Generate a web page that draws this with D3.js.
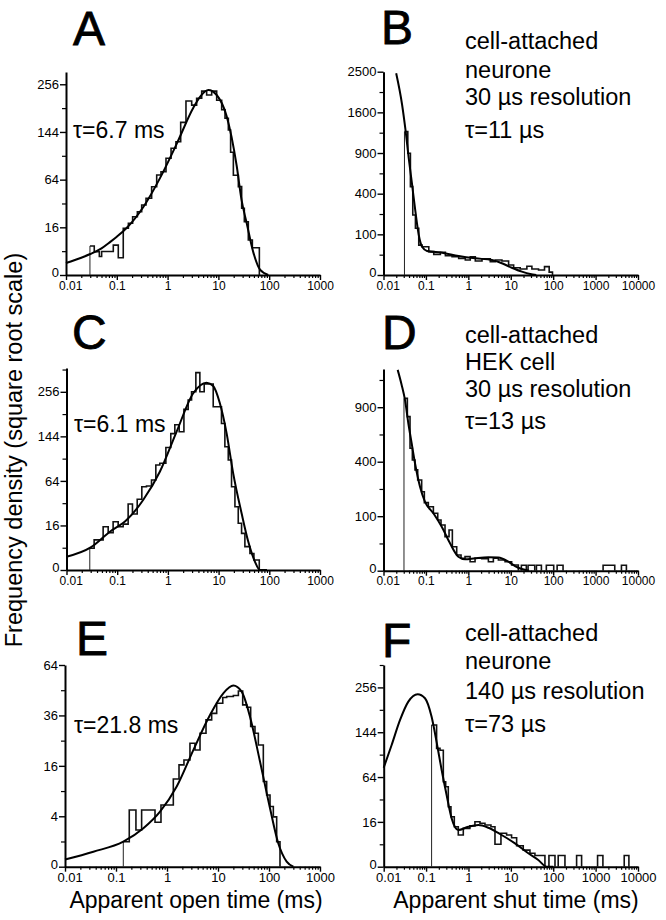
<!DOCTYPE html>
<html><head><meta charset="utf-8">
<script src="https://cdn.jsdelivr.net/npm/d3@7"></script>
<style>
body{margin:0;background:#fff}
svg{display:block}
text{font-family:"Liberation Sans",Arial,Helvetica,sans-serif;fill:#000}
</style>
</head><body>
<svg id="chart" width="666" height="920"></svg>
<script>
// ---------- DATA ----------
// Panel A: apparent open time, neurone
const aEdges = [0.0296,0.036,0.0453,0.0503,0.0853,0.107,0.134,0.169,0.205,0.254,0.309,0.376,0.485,0.61,0.741,0.93,1.17,1.46,1.81,2.30,2.98,3.73,4.69,5.87,7.38,9.25,11.6,13.5,15.7,17.4,19.7,24.7,28.7,32.4,38.8,46.6,64];
const aVals  = [5.9,3.8,2.4,3.9,6.3,2.1,15.4,18.8,23.9,28.2,34.5,41.4,54.9,70.4,75,95.8,113,125,164,213,203,220,238,228,238,215,192,173,148,106,70,55,31.3,20,8.6,5.2];
const aFitX  = [0.01,0.02,0.03,0.05,0.0734,0.1,0.156,0.333,0.708,1.51,3.21,4.5,6.33,9.25,14.5,22.9,28.5,36,48.7,66,96];
const aFitY  = [1.0,2.1,3.1,5.0,7.6,10.3,15.5,32.5,66,121,197,226,241,228,178,84,40,19,3.6,0.2,0];

// Panel B: apparent shut time, neurone, 30 µs resolution
const bEdges = [0.0312,0.0374,0.0431,0.049,0.0566,0.0678,0.0813,0.117,0.153,0.219,0.288,0.413,0.592,0.849,1.11,1.46,2.10,3.29,4.32,6.2,8.9,11.7,16.7,24,31.5,45.2,62.5,80.5,96.4];
const bVals  = [1243,896,472,218,132,54,48.5,33,25.8,31.5,22.5,20.4,16.8,13.6,20,11.9,15.9,10.8,13.6,11.9,6,3.2,2.2,4.6,2.2,1.5,4.2,0.5];
const bFitX  = [0.0199,0.0275,0.033,0.0394,0.0473,0.0566,0.0678,0.0813,0.106,0.24,0.592,1.46,3.6,6.2,10.6,18.3,28.8,40];
const bFitY  = [2460,1748,1272,824,490,242,97,48,35,30,21.8,16.8,13.6,8.3,3.2,0.67,0.05,0];

// Panel C: apparent open time, HEK cell
const cEdges = [0.0288,0.0351,0.0528,0.0664,0.0831,0.1045,0.131,0.1644,0.2,0.248,0.306,0.378,0.475,0.578,0.693,0.912,1.14,1.37,1.67,2.07,2.51,2.93,3.56,4.27,5.2,6.53,7.83,9.12,11.4,13.3,15.5,18.0,21.0,24.4,28.4,33.0,41.5,49.7,63.4];
const cVals  = [3.8,7.3,15.1,11.2,18.8,15.1,17,35.1,25.3,40.3,55.9,56.8,65.3,88.8,92,121,150,170,154,208,233,256,314,256,279,279,215,215,173,122.5,97.5,55.9,32.3,17.6,10.8,4.4,2.2,0.8];
const cFitX  = [0.01,0.03,0.0717,0.153,0.325,0.693,1.48,3.16,5.79,7.83,10.6,14.4,19.4,28.4,38.4,52,65.3,90];
const cFitY  = [1.4,4.1,11.8,20.1,39.5,77.9,154,252,283,273,224,150.6,75.3,25.9,6.5,0.56,0,0];

// Panel D: apparent shut time, HEK cell, 30 µs resolution
const dEdges = [0.0304,0.0365,0.0422,0.0479,0.0553,0.064,0.0794,0.0918,0.114,0.15,0.19,0.227,0.282,0.351,0.42,0.532,0.673,0.836,1.1,1.44,2.07,2.97,3.89,5.11,7.34,10.5,15.1];
const dVals  = [1000,799,505,413,342,277,210,156,138,111,86.6,70.4,39,55.8,19.4,8.3,5.2,6.7,2.7,5.2,4.8,2.7,5.2,3.9,2.7,1.1];
const dTailLeft  = [17.8,25.6,40.3,69,124,1503,4070];
const dTailRight = [23.3,36.8,52.8,103,171,2831,5330];
const dTailVals  = [1,1,1,1,1,1,1];
const dFitX  = [0.0216,0.0268,0.0321,0.0385,0.0461,0.0553,0.0726,0.0953,0.15,0.236,0.37,0.582,0.836,1.44,2.97,5.11,8.8,12.6,18.2,27];
const dFitY  = [1358,1162,982,732,547,389,238,160,111,65,25.3,6.6,4.4,5.2,6.0,5.8,2.7,0.74,0.1,0];

// Panel E: apparent open time, neurone (140 µs)
const eEdges = [0.139,0.182,0.246,0.318,0.582,0.762,1.33,1.72,2.15,2.82,3.54,4.44,5.82,7.51,9.42,12.4,14.8,20,25.1,30.5,36.5,43.7,53.1,61.8,77.4,90,104.7,121.6,141.4,164.3];
const eVals  = [0.98,5.06,2.12,5.06,3.1,6.0,12.1,16.3,17.9,24,21.4,28,33.9,37,42,45,45.6,46.1,48.6,41.2,40,30.9,28,23.3,11.4,8.1,5.7,3.9,0.98];
const eFitX  = [0.01,0.036,0.139,0.344,0.73,1.55,3.28,6.97,12.7,20,29.1,42.4,66.6,104.7,152,222,300];
const eFitY  = [0.08,0.354,0.98,2.32,4.76,10.1,21.4,36.2,47.3,51.6,48.2,35.4,17.4,5.37,0.86,0.04,0];

// Panel F: apparent shut time, neurone, 140 µs resolution
const fEdges = [0.135,0.177,0.213,0.255,0.29,0.334,0.386,0.463,0.575,0.755,1.08,1.42,1.87,2.45,3.39,4.22,5.84,7.94,10.4,13.7,19.6,28.2,37,63.7];
const fVals  = [160,111.5,108,57.5,51,28.6,19.9,12.7,8.0,11.7,13.3,16.1,15,13.8,12.7,4,8.9,8.0,6.7,3.5,2.2,1.43,1.0];
const fTailLeft  = [79.2,131,356,1112,4730];
const fTailRight = [110,189,467,1486,6100];
const fTailVals  = [1,1,1,1,1];
const fFitX  = [0.01,0.0154,0.0242,0.0381,0.0633,0.0942,0.135,0.177,0.233,0.305,0.401,0.575,0.99,1.71,2.94,6.06,12.5,25.8,44.4,69.8,100];
const fFitY  = [78,118,171,217,237,226,179,124,74.4,40.9,18.6,10.7,12.7,13.8,12.1,8.0,4.35,1.43,0.36,0,0];

// Axis ticks and labels
const xTicksOpen  = [0.01,0.1,1,10,100,1000];
const xLabelsOpen = ["0.01","0.1","1","10","100","1000"];
const xTicksShut  = [0.01,0.1,1,10,100,1000,10000];
const xLabelsShut = ["0.01","0.1","1","10","100","1000","10000"];
const yTicksA = [0,16,64,144,256],        yMinorA = [4,36,100,196];
const yTicksB = [0,100,400,900,1600,2500], yMinorB = [25,225,625,1225,2025];
const yTicksC = [0,16,64,144,256],        yMinorC = [4,36,100,196,324];
const yTicksD = [0,100,400,900],          yMinorD = [25,225,625,1225];
const yTicksE = [0,4,16,36,64],           yMinorE = [1,9,25,49];
const yTicksF = [0,16,64,144,256],        yMinorF = [4,36,100,196,324];

// Texts
const panelLetters = ["A","B","C","D","E","F"];
const tauOpen = ["τ=6.7 ms","τ=6.1 ms","τ=21.8 ms"];
const notesB = ["cell-attached","neurone","30 µs resolution","τ=11 µs"];
const notesD = ["cell-attached","HEK cell","30 µs resolution","τ=13 µs"];
const notesF = ["cell-attached","neurone","140 µs resolution","τ=73 µs"];
const yTitle = "Frequency density (square root scale)";
const xTitleOpen = "Apparent open time (ms)";
const xTitleShut = "Apparent shut time (ms)";

// ---------- LAYOUT ----------
const layout = [
  {edges:aEdges, vals:aVals, fx:aFitX, fy:aFitY, xt:xTicksOpen, xl:xLabelsOpen, yt:yTicksA, ym:yMinorA,
   left:66, right:320, base:275, top:72, xMax:1000, yMax:290, lx:73, ly:45, xfs:12},
  {edges:bEdges, vals:bVals, fx:bFitX, fy:bFitY, xt:xTicksShut, xl:xLabelsShut, yt:yTicksB, ym:yMinorB,
   left:383.5, right:638, base:275, top:71.7, xMax:10000, yMax:2500, lx:381, ly:44, xfs:12},
  {edges:cEdges, vals:cVals, fx:cFitX, fy:cFitY, xt:xTicksOpen, xl:xLabelsOpen, yt:yTicksC, ym:yMinorC,
   left:66.5, right:320, base:570, top:368, xMax:1000, yMax:329, lx:72, ly:349, xfs:12},
  {edges:dEdges, vals:dVals, fx:dFitX, fy:dFitY, xt:xTicksShut, xl:xLabelsShut, yt:yTicksD, ym:yMinorD,
   left:383.5, right:638, base:570.7, top:369, xMax:10000, yMax:1370, lx:382, ly:349, xfs:12,
   tl:dTailLeft, tr:dTailRight, tv:dTailVals},
  {edges:eEdges, vals:eVals, fx:eFitX, fy:eFitY, xt:xTicksOpen, xl:xLabelsOpen, yt:yTicksE, ym:yMinorE,
   left:65, right:320, base:866.7, top:665, xMax:1000, yMax:64, lx:76, ly:655, xfs:13},
  {edges:fEdges, vals:fVals, fx:fFitX, fy:fFitY, xt:xTicksShut, xl:xLabelsShut, yt:yTicksF, ym:yMinorF,
   left:383.7, right:638, base:866.7, top:665, xMax:10000, yMax:324, lx:382, ly:657, xfs:13,
   tl:fTailLeft, tr:fTailRight, tv:fTailVals}
];

const svg = d3.select("#chart");

layout.forEach((p, i) => {
  const x = d3.scaleLog().domain([0.01, p.xMax]).range([p.left, p.right]);
  const y = d3.scaleSqrt().domain([0, p.yMax]).range([p.base, p.top]);
  const g = svg.append("g");

  // minor x ticks
  const minors = x.ticks().filter(v => !p.xt.some(t => Math.abs(t - v) / t < 1e-6));
  g.append("g").attr("transform", `translate(0,${p.base})`)
    .call(d3.axisBottom(x).tickValues(minors).tickSize(3).tickFormat(""))
    .call(s => s.select(".domain").remove())
    .selectAll("line").attr("stroke", "#000").attr("stroke-width", 1.2);
  // major x ticks
  const xa = g.append("g").attr("transform", `translate(0,${p.base})`)
    .call(d3.axisBottom(x).tickValues(p.xt).tickSize(5).tickSizeOuter(0).tickPadding(1)
      .tickFormat((d, k) => p.xl[k]));
  xa.select(".domain").attr("stroke", "#000").attr("stroke-width", 2);
  xa.selectAll("line").attr("stroke", "#000").attr("stroke-width", 1.4);
  xa.selectAll("text").attr("font-size", p.xfs).attr("font-family", null);
  // keep the "0.01" label clear of the y-axis "0" label
  xa.selectAll("text").filter((d, k) => k === 0).attr("dx", "0.35em");

  // minor y ticks
  g.append("g").attr("transform", `translate(${p.left},0)`)
    .call(d3.axisLeft(y).tickValues(p.ym).tickSize(4).tickFormat(""))
    .call(s => s.select(".domain").remove())
    .selectAll("line").attr("stroke", "#000").attr("stroke-width", 1.2);
  // major y ticks
  const ya = g.append("g").attr("transform", `translate(${p.left},0)`)
    .call(d3.axisLeft(y).tickValues(p.yt).tickSize(6).tickSizeOuter(0).tickPadding(1)
      .tickFormat(d => String(d)));
  ya.select(".domain").attr("stroke", "#000").attr("stroke-width", 2);
  ya.selectAll("line").attr("stroke", "#000").attr("stroke-width", 1.4);
  ya.selectAll("text").attr("font-size", 13).attr("font-family", null);
  ya.selectAll("text").filter(d => d === 0).attr("dy", "0.1em");

  // histogram (step outline)
  let d = `M${x(p.edges[0])},${y(p.vals[0])}`;
  for (let k = 0; k < p.vals.length; k++) {
    d += `H${x(p.edges[k + 1])}`;
    if (k + 1 < p.vals.length) d += `V${y(p.vals[k + 1])}`;
  }
  d += `V${y(0)}`;
  g.append("path").attr("d", d).attr("fill", "none").attr("stroke", "#111")
    .attr("stroke-width", 1.6).attr("stroke-linejoin", "miter");
  // thin leading edge at resolution
  g.append("line").attr("x1", x(p.edges[0])).attr("x2", x(p.edges[0]))
    .attr("y1", y(0)).attr("y2", y(p.vals[0])).attr("stroke", "#222").attr("stroke-width", 1);
  // isolated tail bins
  if (p.tl) {
    p.tl.forEach((l, k) => {
      g.append("path")
        .attr("d", `M${x(l)},${y(0)}V${y(p.tv[k])}H${x(p.tr[k])}V${y(0)}`)
        .attr("fill", "none").attr("stroke", "#111").attr("stroke-width", 1.6);
    });
  }
  // fitted curve
  const line = d3.line().x(v => x(v[0])).y(v => y(v[1])).curve(d3.curveMonotoneX);
  g.append("path").datum(p.fx.map((v, k) => [v, p.fy[k]])).attr("d", line)
    .attr("fill", "none").attr("stroke", "#000").attr("stroke-width", 2);

  // panel letter
  svg.append("text").attr("x", p.lx).attr("y", p.ly).attr("font-size", 48)
    .attr("stroke", "#000").attr("stroke-width", 0.8).text(panelLetters[i]);
});

// tau labels on open-time panels
const tauPos = [[73, 138], [74, 432], [74, 733]];
tauOpen.forEach((t, k) => {
  svg.append("text").attr("x", tauPos[k][0]).attr("y", tauPos[k][1]).attr("font-size", 23).text(t);
});

// notes on shut-time panels
const notePos = [[465, [49, 78, 105, 138]], [465, [343, 369.5, 397, 428.5]], [465, [641, 668.5, 698.5, 731.5]]];
[notesB, notesD, notesF].forEach((lines, k) => {
  lines.forEach((t, j) => {
    svg.append("text").attr("x", notePos[k][0]).attr("y", notePos[k][1][j]).attr("font-size", 23.5).text(t);
  });
});

// axis titles
svg.append("text").attr("transform", "translate(22,450) rotate(-90)").attr("text-anchor", "middle")
  .attr("font-size", 23.5).text(yTitle);
svg.append("text").attr("x", 196).attr("y", 908).attr("text-anchor", "middle").attr("font-size", 23).text(xTitleOpen);
svg.append("text").attr("x", 516).attr("y", 908).attr("text-anchor", "middle").attr("font-size", 23).text(xTitleShut);
</script>
</body></html>
